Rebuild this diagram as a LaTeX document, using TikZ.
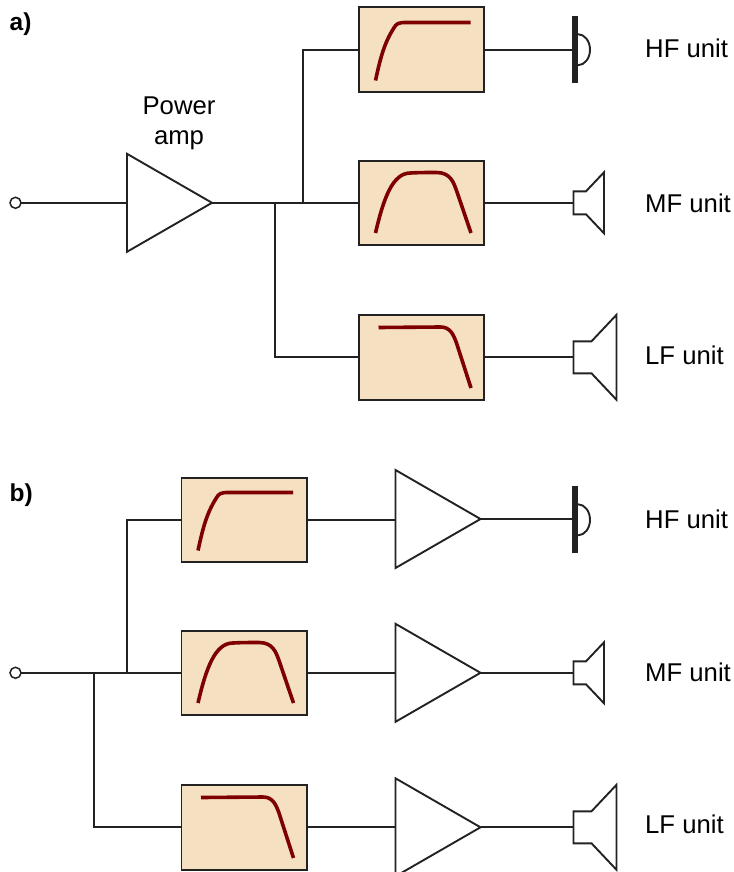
\documentclass[tikz,border=0pt]{standalone}
\usepackage{fontspec}
\setmainfont{Liberation Sans}
\definecolor{ink}{HTML}{222222}
\definecolor{filterfill}{HTML}{F5E1C2}
\definecolor{curvered}{HTML}{7F0000}
\tikzset{
  x=1pt,y=-1pt,
  wire/.style={draw=ink,line width=1.9pt,line join=miter},
  filterbox/.style={draw=ink,line width=1.9pt,fill=filterfill,minimum width=125.5pt,minimum height=84.5pt,inner sep=0pt,outer sep=0pt,anchor=center},
  curve/.style={draw=curvered,line width=3.6pt},
  label/.style={font=\fontsize{25.7}{30}\selectfont,anchor=base west,inner sep=0pt,text=black},
  headlabel/.style={font=\fontsize{24.5}{29}\selectfont\bfseries,anchor=base west,inner sep=0pt,text=black},
  terminal/.style={circle,draw=ink,line width=1.5pt,fill=white,minimum size=11pt,inner sep=0pt,outer sep=0pt},
}
% #1 name, #2 left x, #3 centre y
\newcommand{\ampshape}[3]{%
  \draw[wire,line join=miter,miter limit=20] (#2,#3-49) -- (#2+85,#3) -- (#2,#3+49) -- cycle;
  \coordinate (#1in) at (#2,#3);
  \coordinate (#1out) at (#2+85,#3);
}
% #1 name, #2 centre y
\newcommand{\hfunit}[2]{%
  \coordinate (#1) at (572,#2);
  \draw[draw=ink,line width=1.9pt] (578,#2-15.5) arc[start angle=90,delta angle=-180,x radius=12,y radius=-15.5];
  \fill[fill=ink] (572,#2-33.5) rectangle (578,#2+33.5);
}
\newcommand{\mfunit}[2]{%
  \coordinate (#1) at (573.5,#2);
  \draw[wire] (586,#2-11.5) -- (573.5,#2-11.5) -- (573.5,#2+11.5) -- (586,#2+11.5) -- (604,#2+30.5) -- (604,#2-30.5) -- cycle;
}
\newcommand{\lfunit}[2]{%
  \coordinate (#1) at (573.5,#2);
  \draw[wire] (591.5,#2-16) -- (573.5,#2-16) -- (573.5,#2+16) -- (591.5,#2+16) -- (616.5,#2+42.5) -- (616.5,#2-42.5) -- cycle;
}
\newcommand{\hpcurve}[2]{%
  \draw[curve] (#1+17,#2+73) .. controls (#1+22,#2+50) and (#1+26,#2+34) .. (#1+37,#2+18)
     .. controls (#1+40,#2+14.5) and (#1+44,#2+15) .. (#1+55,#2+15) -- (#1+112,#2+15);
}
\newcommand{\bpcurve}[2]{%
  \draw[curve] (#1+17,#2+72.5) .. controls (#1+25,#2+38) and (#1+34,#2+12.5) .. (#1+52,#2+12.5)
     .. controls (#1+60,#2+12) and (#1+70,#2+12) .. (#1+78,#2+12)
     .. controls (#1+92,#2+12) and (#1+95,#2+22) .. (#1+98,#2+30) -- (#1+112.5,#2+72.5);
}
\newcommand{\lpcurve}[2]{%
  \draw[curve] (#1+20,#2+12.5) -- (#1+82,#2+12)
     .. controls (#1+92,#2+12) and (#1+95,#2+20) .. (#1+98,#2+28) -- (#1+112.5,#2+73);
}
\begin{document}
\begin{tikzpicture}
\clip (0,0) rectangle (733,872);

% ---------- a) ----------
\node[headlabel] (heada) at (9.5,31) {a)};
\node[label,anchor=base] (powerlab) at (179,114) {Power};
\node[label,anchor=base] (amplab) at (179,144.5) {amp};
\node[terminal] (ina) at (15.5,202.8) {};
\coordinate (ja1) at (275,202.8);
\coordinate (ja2) at (303,202.8);
\node[filterbox] (ahf) at (421.5,49.7) {};
\node[filterbox] (amf) at (421.5,202.8) {};
\node[filterbox] (alf) at (421.5,357.3) {};
\hpcurve{358.5}{7.5}
\bpcurve{358.5}{160.5}
\lpcurve{358.5}{315}
\ampshape{aa}{127}{202.8}
\hfunit{aspk1}{49.7}
\mfunit{aspk2}{202.8}
\lfunit{aspk3}{357.3}
\draw[wire] (ina) -- (aain);
\draw[wire] (aaout) -- (amf.west);
\draw[wire] (ja2) |- (ahf.west);
\draw[wire] (ja1) |- (alf.west);
\draw[wire] (ahf.east) -- (aspk1);
\draw[wire] (amf.east) -- (aspk2);
\draw[wire] (alf.east) -- (aspk3);
\node[label] (alab1) at (645,58) {HF unit};
\node[label] (alab2) at (645,212) {MF unit};
\node[label] (alab3) at (645,364) {LF unit};

% ---------- b) ----------
\node[headlabel] (headb) at (9.5,501) {b)};
\node[terminal] (inb) at (15.5,672.8) {};
\coordinate (jb1) at (94,672.8);
\coordinate (jb2) at (127,672.8);
\node[filterbox] (bhf) at (244.2,519.8) {};
\node[filterbox] (bmf) at (244.2,672.8) {};
\node[filterbox] (blf) at (244.2,827.3) {};
\hpcurve{181}{477.5}
\bpcurve{181}{630.5}
\lpcurve{181}{785}
\ampshape{ba}{395.5}{519}
\ampshape{bb}{395.5}{672.8}
\ampshape{bc}{395.5}{827.3}
\hfunit{bspk1}{519.8}
\mfunit{bspk2}{672.8}
\lfunit{bspk3}{827.3}
\draw[wire] (inb) -- (bmf.west);
\draw[wire] (jb2) |- (bhf.west);
\draw[wire] (jb1) |- (blf.west);
\draw[wire] (bhf.east) -- (bhf.east -| bain);
\draw[wire] (bmf.east) -- (bbin);
\draw[wire] (blf.east) -- (bcin);
\draw[wire] (baout) -- (baout -| bspk1);
\draw[wire] (bbout) -- (bspk2);
\draw[wire] (bcout) -- (bspk3);
\node[label] (blab1) at (645,528) {HF unit};
\node[label] (blab2) at (645,681.5) {MF unit};
\node[label] (blab3) at (645,833) {LF unit};
\end{tikzpicture}
\end{document}
